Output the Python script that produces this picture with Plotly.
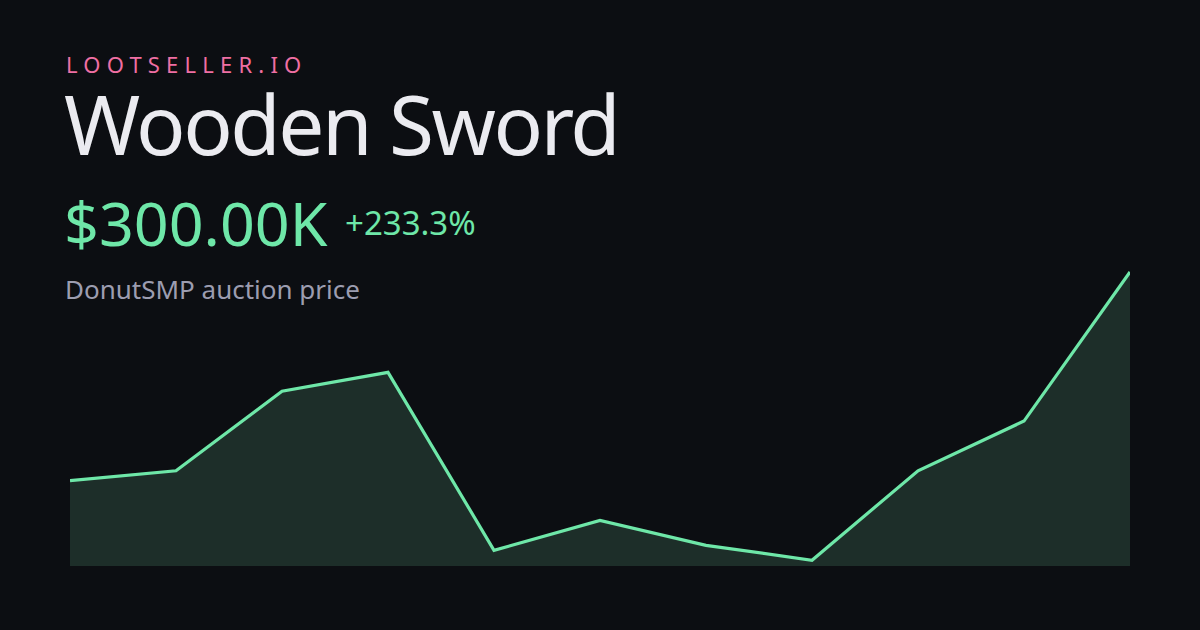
import plotly.graph_objects as go

# Data
periods = list(range(11))
prices_k = [90, 100, 180, 199, 20, 50, 25, 10, 100, 150, 300]

brand = "LOOTSELLER.IO"
title = "Wooden Sword"
price_label = "$300.00K"
change_label = "+233.3%"
subtitle = "DonutSMP auction price"

BG = "#0c0e12"
GREEN = "#6ee7a8"
FILL = "#1d2e29"
FONT = "Noto Sans"

W, H = 1200, 630
L, R = 70, 1130
TOP, BOT = 250, 566

fig = go.Figure()
fig.add_trace(go.Scatter(
    x=periods, y=prices_k, mode="lines",
    line=dict(color=GREEN, width=3.2),
    fill="tozeroy", fillcolor=FILL,
    hoverinfo="skip",
))

def px(xp):
    return (xp - L) / (R - L)

def py(yp):
    return (BOT - yp) / (BOT - TOP)

anns = [
    dict(text=f'<span style="letter-spacing:6.2px">{brand}</span>', x=px(64), y=py(64), size=22, color="#ef6fa3"),
    dict(text=f'<span style="letter-spacing:-2.5px">{title}</span>', x=px(62), y=py(123), size=82, color="#ebebf0"),
    dict(text=price_label, x=px(62), y=py(222), size=61, color=GREEN),
    dict(text=change_label, x=px(343), y=py(222), size=33, color=GREEN),
    dict(text=subtitle, x=px(63), y=py(289), size=26, color="#9c9db0"),
]
annotations = []
for a in anns:
    annotations.append(dict(
        text=a["text"], x=a["x"], y=a["y"], xref="paper", yref="paper",
        xanchor="left", yanchor="middle", showarrow=False,
        font=dict(family=FONT, size=a["size"], color=a["color"]),
    ))

fig.update_layout(
    width=W, height=H,
    paper_bgcolor=BG, plot_bgcolor=BG,
    margin=dict(l=L, r=W - R, t=TOP, b=H - BOT, pad=0),
    showlegend=False,
    xaxis=dict(range=[0, 10], visible=False, fixedrange=True),
    yaxis=dict(range=[4.2, 322.1], visible=False, fixedrange=True),
    annotations=annotations,
)

fig.write_html(
    "out.html",
    config={"displayModeBar": False},
    post_script="document.body.style.margin='0';document.body.style.background='#0c0e12';",
)
